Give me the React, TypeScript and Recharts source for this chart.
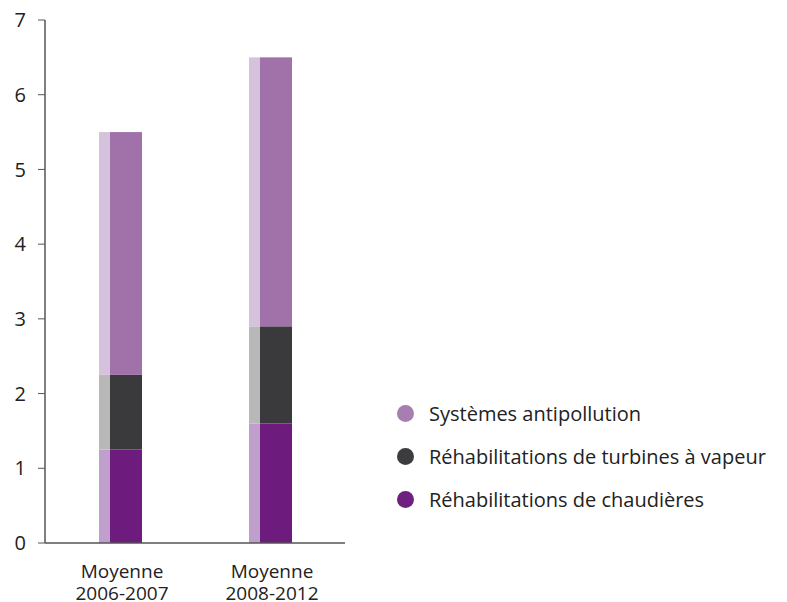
import { BarChart, Bar, XAxis, YAxis } from "recharts";

const categories = ["Moyenne 2006-2007", "Moyenne 2008-2012"];
const chaudieres = [1.25, 1.6];
const turbines = [1.0, 1.3];
const antipollution = [3.25, 3.6];
const yTicks = [0, 1, 2, 3, 4, 5, 6, 7];

const data = categories.map((name, i) => ({
  name,
  chaudieres: chaudieres[i],
  turbines: turbines[i],
  antipollution: antipollution[i],
}));

const series = [
  { key: "chaudieres", label: "Réhabilitations de chaudières", color: "#6d1c7e", light: "#bf9fcb", dot: "#6e1f80" },
  { key: "turbines", label: "Réhabilitations de turbines à vapeur", color: "#3a3a3c", light: "#b8b8b8", dot: "#3c3c3e" },
  { key: "antipollution", label: "Systèmes antipollution", color: "#a072a9", light: "#d6c2dd", dot: "#a87db1" },
];

const font = "'Open Sans', sans-serif";

// main block plus the pale strip on its left edge
const stripShape = (light: string) => (props: any) => {
  const { x, y, width, height, fill } = props;
  const strip = Math.round(width * 0.25);
  return (
    <g>
      <rect x={x} y={y} width={strip} height={height} fill={light} />
      <rect x={x + strip} y={y} width={width - strip} height={height} fill={fill} />
    </g>
  );
};

const XTick = (props: any) => {
  const { x, y, payload } = props;
  const [a, b] = String(payload.value).split(" ");
  return (
    <g>
      <text x={x + 2} y={y + 27} textAnchor="middle" fill="#222" fontSize={19} fontFamily={font}>
        {a}
      </text>
      <text x={x + 2} y={y + 49} textAnchor="middle" fill="#222" fontSize={19} fontFamily={font}>
        {b}
      </text>
    </g>
  );
};

export default function App() {
  return (
    <div style={{ position: "absolute", left: 0, top: 0, width: 787, height: 602, background: "#fff" }}>
      <BarChart
        width={787}
        height={602}
        data={data}
        margin={{ top: 20, right: 442, bottom: 0, left: 0 }}
      >
        <XAxis
          dataKey="name"
          height={59}
          tick={<XTick />}
          tickLine={false}
          axisLine={{ stroke: "#555", strokeWidth: 1.5 }}
        />
        <YAxis
          width={45}
          domain={[0, 7]}
          ticks={yTicks}
          interval={0}
          tickSize={7}
          tickMargin={12}
          tick={{ fill: "#222", fontSize: 20, fontFamily: font }}
          tickLine={{ stroke: "#555" }}
          axisLine={{ stroke: "#555", strokeWidth: 1.5 }}
        />
        {series.map((s) => (
          <Bar
            key={s.key}
            dataKey={s.key}
            name={s.label}
            stackId="a"
            fill={s.color}
            barSize={43}
            shape={stripShape(s.light)}
            isAnimationActive={false}
          />
        ))}
      </BarChart>
      <div
        style={{
          position: "absolute",
          left: 397,
          top: 392,
          fontFamily: font,
          fontSize: 20,
          color: "#222",
        }}
      >
        {[...series].reverse().map((s) => (
          <div key={s.key} style={{ display: "flex", alignItems: "center", height: 43 }}>
            <span
              style={{
                display: "inline-block",
                width: 17,
                height: 17,
                borderRadius: 9,
                background: s.dot,
                marginRight: 15,
              }}
            />
            <span>{s.label}</span>
          </div>
        ))}
      </div>
    </div>
  );
}
